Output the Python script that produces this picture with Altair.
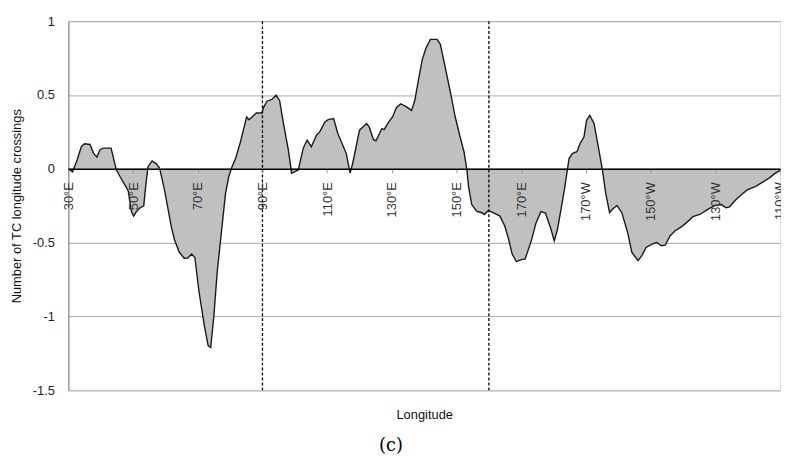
import altair as alt
import pandas as pd

lon = [30.0, 31.3, 32.7, 34.0, 35.0, 36.7, 37.8, 38.8, 39.8, 40.8, 43.2, 44.4, 44.9, 45.9, 47.5,
       48.5, 49.5, 50.2, 51.0, 52.1, 53.3, 53.8, 54.6, 55.9, 57.2, 58.2, 59.7, 61.8, 62.8, 64.3,
       65.8, 66.9, 68.1, 69.1, 70.4, 72.0, 73.2, 74.0, 75.0, 76.0, 77.3, 78.6, 79.6, 80.6, 81.7,
       83.2, 85.1, 85.8, 87.3, 88.1, 89.8, 90.4, 91.4, 92.9, 94.2, 95.3, 96.5, 98.0, 99.0, 100.1,
       101.1, 102.6, 103.8, 105.1, 106.7, 107.7, 109.3, 110.3, 112.0, 113.3, 115.9, 117.1, 117.9,
       120.0, 121.3, 122.2, 123.0, 124.3, 125.1, 126.9, 127.6, 129.0, 130.2, 131.4, 132.7, 134.3,
       136.1, 137.1, 138.2, 139.4, 140.5, 141.9, 144.0, 145.0, 146.5, 148.0, 149.6, 151.1, 152.3,
       153.2, 153.7, 154.7, 156.2, 157.8, 158.6, 159.8, 161.3, 163.4, 164.9, 166.1, 167.2, 168.5,
       170.0, 171.2, 173.1, 174.6, 176.1, 177.5, 179.2, 180.2, 181.2, 182.3, 183.5, 184.8, 185.9,
       187.2, 188.2, 189.4, 190.2, 191.2, 192.5, 194.0, 195.1, 196.1, 197.3, 198.1, 199.6, 201.1,
       202.9, 204.2, 206.1, 207.3, 208.6, 210.4, 211.9, 213.3, 214.5, 216.0, 217.5, 219.6, 221.1,
       223.1, 225.2, 227.7, 229.8, 231.8, 233.3, 234.4, 236.4, 238.4, 240.0, 242.5, 244.5, 246.6,
       248.6, 250.0]
crossings = [0.0, -0.02, 0.06, 0.15, 0.17, 0.165, 0.105, 0.08, 0.13, 0.14, 0.14, 0.03, -0.01, -0.05, -0.11,
             -0.15, -0.29, -0.32, -0.29, -0.265, -0.25, -0.14, 0.015, 0.054, 0.034, 0.005, -0.14, -0.39, -0.48, -0.565,
             -0.605, -0.604, -0.577, -0.6, -0.834, -1.058, -1.197, -1.21, -0.99, -0.70, -0.43, -0.163, -0.052, 0.015, 0.072,
             0.183, 0.351, 0.333, 0.362, 0.378, 0.378, 0.418, 0.458, 0.47, 0.50, 0.463, 0.307, 0.128, -0.029, -0.018,
             -0.007, 0.14, 0.195, 0.15, 0.228, 0.25, 0.317, 0.333, 0.34, 0.24, 0.105, -0.029, 0.038,
             0.262, 0.289, 0.307, 0.284, 0.199, 0.19, 0.273, 0.266, 0.317, 0.351, 0.414, 0.441, 0.423,
             0.396, 0.463, 0.60, 0.74, 0.815, 0.877, 0.877, 0.843, 0.687, 0.53, 0.351, 0.217, 0.116,
             -0.007, -0.119, -0.242, -0.287, -0.297, -0.309, -0.282, -0.297, -0.32, -0.387, -0.477, -0.577, -0.629,
             -0.615, -0.611, -0.488, -0.364, -0.29, -0.30, -0.409, -0.488, -0.409, -0.275, -0.119, 0.072, 0.105,
             0.116, 0.172, 0.217, 0.329, 0.362, 0.307, 0.128, -0.007, -0.163, -0.297, -0.275, -0.248, -0.297,
             -0.432, -0.566, -0.622, -0.588, -0.532, -0.51, -0.499, -0.521, -0.517, -0.454, -0.421, -0.391, -0.364,
             -0.324, -0.309, -0.275, -0.248, -0.242, -0.264, -0.257, -0.208, -0.168, -0.141, -0.119, -0.092, -0.063,
             -0.029, -0.01]

tick_lons = [30, 50, 70, 90, 110, 130, 150, 170, 190, 210, 230, 250]
y_ticks = [-1.5, -1, -0.5, 0, 0.5, 1]
dashed_lons = [90, 160]
caption = ["(c)"]

W, H = 719, 373
Y_MIN, Y_MAX = -1.5, 1.0
zero_offset = -H * (0 - Y_MIN) / (Y_MAX - Y_MIN)

df = pd.DataFrame({"lon": lon, "v": crossings})
ddf = pd.DataFrame({"lon": dashed_lons})
cdf = pd.DataFrame({"t": caption})

FONT = "Liberation Sans"

x_scale = alt.Scale(domain=[30, 250], nice=False, zero=False)
y_scale = alt.Scale(domain=[Y_MIN, Y_MAX], nice=False)

area = alt.Chart(df).mark_area(
    color="#c0c0c0", opacity=1,
    line={"color": "#1a1a1a", "strokeWidth": 1.4},
).encode(
    x=alt.X("lon:Q", scale=x_scale, axis=alt.Axis(
        values=tick_lons,
        labelExpr="datum.value <= 180 ? datum.value + '°E' : (360 - datum.value) + '°W'",
        labelAngle=270, labelFlush=False, labelOverlap=False,
        offset=zero_offset, grid=False,
        domainColor="#000000", domainWidth=1.5,
        tickColor="#999999", tickSize=4, labelPadding=9,
        labelFont=FONT, labelFontSize=13, labelColor="#333333",
        title="Longitude", titleY=248, titleBaseline="middle",
        titleFont=FONT, titleFontSize=13, titleFontWeight="normal", titleColor="#111111",
        zindex=1,
    )),
    y=alt.Y("v:Q", scale=y_scale, axis=alt.Axis(
        values=y_ticks, labelExpr="datum.value + ''",
        ticks=False, labelPadding=14, domainColor="#777777",
        gridColor="#a8a8a8", gridWidth=1,
        labelFont=FONT, labelFontSize=13, labelColor="#222222",
        title="Number of TC longitude crossings", titleX=-52, titleBaseline="middle",
        titleFont=FONT, titleFontSize=13, titleFontWeight="normal", titleColor="#111111",
    )),
    y2=alt.datum(0),
)

rules = alt.Chart(ddf).mark_rule(color="#000000", strokeDash=[3, 2], strokeWidth=1.3).encode(
    x=alt.X("lon:Q", scale=x_scale)
)

cap = alt.Chart(cdf).mark_text(font="DejaVu Serif", fontSize=18, color="#000000").encode(
    text="t:N", x=alt.value(326), y=alt.value(429)
)

chart = alt.layer(area, rules, cap).properties(
    width=W, height=H,
    autosize=alt.AutoSizeParams(type="none"),
    padding={"left": 61, "top": 11, "right": 1, "bottom": 64},
).configure_view(stroke="#a0a0a0", strokeWidth=1).configure(background="white")

chart.save("out.html", embed_options={"renderer": "svg", "actions": False})
